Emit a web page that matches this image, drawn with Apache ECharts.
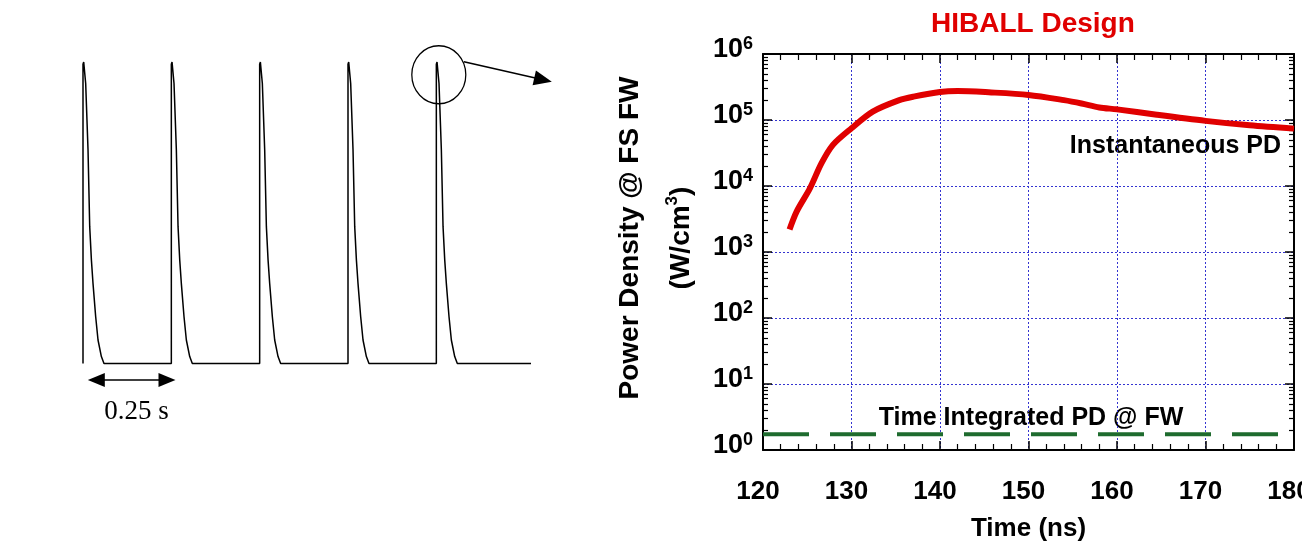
<!DOCTYPE html>
<html>
<head>
<meta charset="utf-8">
<title>HIBALL Design</title>
<script src="https://cdn.jsdelivr.net/npm/echarts@6/dist/echarts.min.js"></script>
<style>
  html, body { margin: 0; padding: 0; background: #fff; }
  #chart { width: 1302px; height: 554px; }
</style>
</head>
<body>
<div id="chart"></div>
<script>
"use strict";

// pulse train (left sketch): one pulse profile, repeated every 0.25 s
var pulseStarts = [0, 0.25, 0.5, 0.75, 1.0];
var pulseShapeT = [0, 0, 0.002, 0.0076, 0.0142, 0.019, 0.0238, 0.0283, 0.0359, 0.0425, 0.052, 0.0594];
var pulseShapeA = [0, 0.993, 1.0, 0.929, 0.709, 0.454, 0.343, 0.266, 0.155, 0.078, 0.023, 0];
var baselineEnd = 1.268;

// HIBALL power density at FS first wall
var timeNs = [123, 123.8, 125.3, 126.6, 127.9, 130, 132.4, 135.4, 137, 140, 142, 145.5, 150, 154, 156, 158, 160, 164.5, 170, 175, 180];
var instPD = [2200, 4100, 9200, 22000, 42000, 75000, 134000, 200000, 226000, 266000, 275000, 263000, 240000, 200000, 178000, 155000, 145000, 120000, 97000, 83000, 74000];
var integTime = [120, 180];
var integPD = [1.73, 1.73];

var xTicks = [120, 130, 140, 150, 160, 170, 180];
var yTicks = [1, 10, 100, 1000, 10000, 100000, 1000000];

var SANS = '"Liberation Sans", Arial, sans-serif';

var pulseData = [];
pulseStarts.forEach(function (t0) {
  for (var i = 0; i < pulseShapeT.length; i++) {
    pulseData.push([t0 + pulseShapeT[i], pulseShapeA[i]]);
  }
});
pulseData.push([baselineEnd, 0]);

// log minor tick positions 2..9 in each decade
var minorLog = [];
for (var d = 0; d < yTicks.length - 1; d++) {
  for (var k = 2; k <= 9; k++) minorLog.push(yTicks[d] * k);
}

var chart = echarts.init(document.getElementById("chart"), null, { renderer: "canvas" });

var gridLine = { show: true, lineStyle: { color: "#3434d0", width: 1, type: [2, 2] } };
var blackLine = { show: true, onZero: false, lineStyle: { color: "#000", width: 2 } };

function logAxis(pos, minor) {
  return {
    type: "log",
    gridIndex: 1,
    position: pos,
    logBase: 10,
    min: yTicks[0],
    max: yTicks[yTicks.length - 1],
    interval: 1,
    axisLine: minor ? { show: false } : blackLine,
    axisTick: minor
      ? { show: true, inside: true, length: 5, customValues: minorLog, lineStyle: { color: "#000", width: 1.2 } }
      : { show: true, inside: true, length: 9, lineStyle: { color: "#000", width: 1.5 } },
    axisLabel: { show: false },
    splitLine: { show: false },
  };
}

function timeAxis(pos) {
  return {
    type: "value",
    gridIndex: 1,
    position: pos,
    min: xTicks[0],
    max: xTicks[xTicks.length - 1],
    interval: 10,
    axisLine: blackLine,
    axisTick: { show: true, inside: true, length: 9, lineStyle: { color: "#000", width: 1.5 } },
    minorTick: { show: true, splitNumber: 5, length: 6, lineStyle: { color: "#000", width: 1.2 } },
    axisLabel: { show: false },
    splitLine: { show: false },
  };
}

var yMain = logAxis("left", false);
yMain.splitLine = gridLine;
yMain.axisLabel = {
  show: true,
  margin: 10,
  formatter: function (v) {
    return "{b|10}{s|" + Math.round(Math.log10(v)) + "}";
  },
  rich: {
    b: { fontSize: 27, fontWeight: "bold", fontFamily: SANS, color: "#000", padding: [0, 0, 9, 0] },
    s: { fontSize: 18, fontWeight: "bold", fontFamily: SANS, color: "#000", padding: [0, 0, 20, 0] },
  },
};

var xMain = timeAxis("bottom");
xMain.splitLine = gridLine;
xMain.axisLabel = {
  show: true,
  margin: 29,
  fontSize: 26,
  fontWeight: "bold",
  fontFamily: SANS,
  color: "#000",
  padding: [0, 10, 0, 0],
};
xMain.name = "Time (ns)";
xMain.nameLocation = "middle";
xMain.nameGap = 66;
xMain.nameTextStyle = { fontSize: 26, fontWeight: "bold", fontFamily: SANS, color: "#000" };

chart.setOption({
  animation: false,
  backgroundColor: "#fff",
  title: {
    text: "HIBALL Design",
    left: 926,
    top: 5,
    textStyle: { color: "#e00000", fontSize: 28, fontWeight: "bold", fontFamily: SANS },
  },
  grid: [
    // x 0..1.35 s at 353.3 px/s, amplitude -0.35..1.05 at 301.5 px/unit
    { left: 83, top: 47, width: 477, height: 422, outerBoundsMode: "none" },
    { left: 763, top: 54, width: 531, height: 396, outerBoundsMode: "none" },
  ],
  xAxis: [
    { type: "value", gridIndex: 0, min: 0, max: 1.35, show: false },
    xMain,
    timeAxis("top"),
  ],
  yAxis: [
    { type: "value", gridIndex: 0, min: -0.35, max: 1.05, show: false },
    yMain,
    logAxis("right", false),
    logAxis("left", true),
    logAxis("right", true),
  ],
  graphic: [
    {
      type: "text",
      x: 1281,
      y: 146,
      style: { text: "Instantaneous PD", font: "bold 25px " + SANS, fill: "#000", align: "right", verticalAlign: "middle" },
    },
    {
      type: "text",
      x: 1031,
      y: 418,
      style: { text: "Time Integrated PD @ FW", font: "bold 25px " + SANS, fill: "#000", align: "center", verticalAlign: "middle" },
    },
    {
      type: "text",
      x: 630,
      y: 238,
      rotation: Math.PI / 2,
      style: { text: "Power Density @ FS FW", font: "bold 28px " + SANS, fill: "#000", align: "center", verticalAlign: "middle" },
    },
    {
      type: "text",
      x: 681,
      y: 238,
      rotation: Math.PI / 2,
      style: {
        text: "{a|(W/cm}{s|3}{a|)}",
        align: "center",
        verticalAlign: "middle",
        rich: {
          a: { fontSize: 28, fontWeight: "bold", fontFamily: SANS, fill: "#000" },
          s: { fontSize: 17, fontWeight: "bold", fontFamily: SANS, fill: "#000", padding: [0, 0, 18, 0] },
        },
      },
    },
    {
      type: "text",
      x: 136.5,
      y: 411.5,
      style: { text: "0.25 s", font: '27px "Liberation Serif", "Times New Roman", serif', fill: "#000", align: "center", verticalAlign: "middle" },
    },
  ],
  series: [
    {
      name: "pulses",
      type: "line",
      xAxisIndex: 0,
      yAxisIndex: 0,
      data: pulseData,
      symbol: "none",
      clip: false,
      lineStyle: { color: "#000", width: 1.5 },
      markPoint: {
        silent: true,
        symbol: "circle",
        symbolSize: [54, 58],
        label: { show: false },
        itemStyle: { color: "rgba(0,0,0,0)", borderColor: "#000", borderWidth: 1.3 },
        data: [{ coord: [1.007, 0.958] }],
      },
      markLine: {
        silent: true,
        label: { show: false },
        lineStyle: { color: "#000", width: 1.5, type: "solid" },
        data: [
          [
            { coord: [1.078, 1.001], symbol: "none" },
            { coord: [1.302, 0.941], symbol: "triangle", symbolSize: [15, 18] },
          ],
          [
            { coord: [0.0377, -0.0547], symbol: "triangle", symbolSize: [14, 17] },
            { coord: [0.2377, -0.0547], symbol: "triangle", symbolSize: [14, 17] },
          ],
        ],
      },
    },
    {
      name: "Instantaneous PD",
      type: "line",
      xAxisIndex: 1,
      yAxisIndex: 1,
      data: timeNs.map(function (t, i) { return [t, instPD[i]]; }),
      symbol: "none",
      smooth: 0.3,
      lineStyle: { color: "#e00000", width: 6 },
    },
    {
      name: "Time Integrated PD @ FW",
      type: "line",
      xAxisIndex: 1,
      yAxisIndex: 1,
      data: integTime.map(function (t, i) { return [t, integPD[i]]; }),
      symbol: "none",
      lineStyle: { color: "#1e6b2e", width: 4, type: [46, 21] },
    },
  ],
});
</script>
</body>
</html>
